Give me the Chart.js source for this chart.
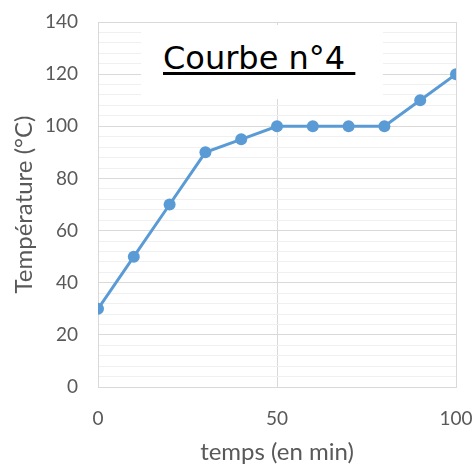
<!DOCTYPE html>
<html>
<head>
<meta charset="utf-8">
<script src="https://cdn.jsdelivr.net/npm/chart.js@4/dist/chart.umd.min.js"></script>
<style>
  html, body { margin: 0; padding: 0; background: #fff; }
  #wrap { position: relative; width: 472px; height: 472px; }
  #c { position: absolute; left: 0; top: 0; }
  #titlebox { position: absolute; left: 141px; top: 25px; width: 242px; height: 74px; background: #fff; }
  #titlebox span { position: absolute; left: 22px; top: 14px; font-family: "DejaVu Sans", sans-serif; font-size: 32px; line-height: normal; color: #000; white-space: pre;
    text-decoration: underline; text-decoration-thickness: 3px; text-underline-offset: 3px; }
</style>
</head>
<body>
<div id="wrap">
  <canvas id="c" width="472" height="472"></canvas>
  <div id="titlebox"><span>Courbe n°4&nbsp;</span></div>
</div>
<script>
const times = [0, 10, 20, 30, 40, 50, 60, 70, 80, 90, 100];
const temperatures = [30, 50, 70, 90, 95, 100, 100, 100, 100, 110, 120];
const xTitle = "temps (en min)";
const yTitle = "Température (°C)";
const chartTitle = "Courbe n°4";

const textColor = "#595959";
const tickFont = { family: "Lato, 'Open Sans', sans-serif", size: 19 };
const titleFont = { family: "Lato, 'Open Sans', sans-serif", size: 24 };

new Chart(document.getElementById('c'), {
  type: 'line',
  data: {
    datasets: [{
      data: times.map((t, i) => ({ x: t, y: temperatures[i] })),
      borderColor: '#5B9BD5',
      backgroundColor: '#5B9BD5',
      borderWidth: 3,
      pointRadius: 6,
      pointBorderWidth: 0,
      tension: 0
    }]
  },
  options: {
    responsive: false,
    animation: false,
    devicePixelRatio: 1,
    layout: { padding: { top: 22, right: 16, left: 0, bottom: 0 } },
    plugins: { legend: { display: false }, tooltip: { enabled: false } },
    scales: {
      x: {
        type: 'linear', min: 0, max: 100,
        ticks: { stepSize: 50, color: textColor, font: tickFont, padding: 20, maxRotation: 0 },
        grid: { color: '#d9d9d9', drawTicks: false, lineWidth: 1 },
        border: { color: '#d9d9d9' },
        title: { display: true, text: xTitle, color: textColor, font: titleFont, padding: { top: 0, bottom: 5 } },
        afterFit: (s) => { s.height = 85; s.paddingLeft = 0; s.paddingRight = 0; }
      },
      y: {
        type: 'linear', min: 0, max: 140,
        ticks: {
          stepSize: 4, autoSkip: false, color: textColor, font: tickFont, padding: 20,
          callback: (v) => (v % 20 === 0 ? String(v) : '')
        },
        grid: {
          drawTicks: false,
          color: (ctx) => (ctx.tick && ctx.tick.value % 20 === 0 ? '#d9d9d9' : '#f0f0f0'),
          lineWidth: 1
        },
        border: { color: '#d9d9d9' },
        title: { display: true, text: yTitle, color: textColor, font: titleFont, padding: { top: 10, bottom: 0 } },
        afterFit: (s) => { s.width = 98; s.paddingTop = 0; s.paddingBottom = 0; }
      }
    }
  }
});
</script>
</body>
</html>
